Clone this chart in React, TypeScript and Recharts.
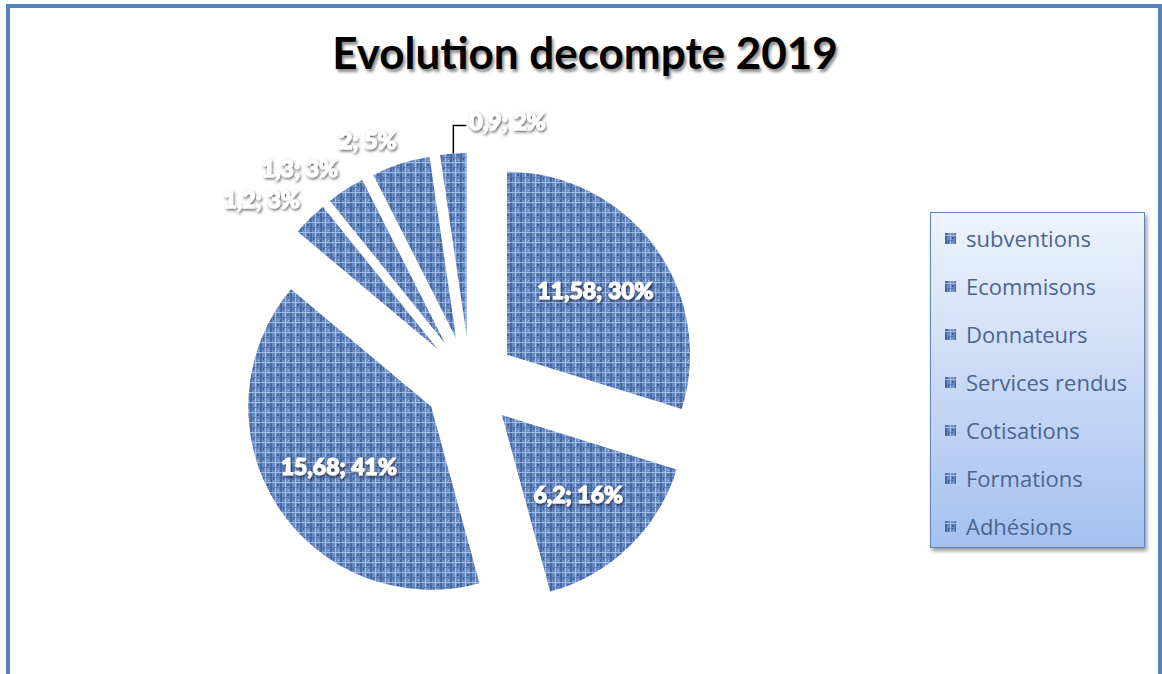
import React from "react";
import { Pie, PieChart, Cell } from "recharts";

const CATEGORIES = ["subventions", "Ecommisons", "Donnateurs", "Services rendus", "Cotisations", "Formations", "Adhésions"];
const VALUES = [11.58, 6.2, 15.68, 1.2, 1.3, 2, 0.9];
const PERCENT_LABELS = [30, 16, 41, 3, 3, 5, 2];

const W = 1162;
const H = 674;
const CX = 470;
const CY = 382;
const R = 183;
const EXPLODE = 46;
const RAD = Math.PI / 180;
const FONT = "Lato, 'Open Sans', sans-serif";

const data = CATEGORIES.map((name, i) => ({ name, value: VALUES[i] }));
const total = VALUES.reduce((a, b) => a + b, 0);

// recharts angle convention: degrees ccw from 3 o'clock, pie drawn clockwise from 12
const midAngles = VALUES.map((v, i) => {
  const before = VALUES.slice(0, i).reduce((a, b) => a + b, 0);
  return 90 - (360 * (before + v / 2)) / total;
});

const fmt = (v: number) => String(v).replace(".", ",");

function Defs() {
  return (
    <svg width={0} height={0} style={{ position: "absolute" }}>
      <defs>
        <pattern id="weave" width="10" height="10" patternUnits="userSpaceOnUse">
          <rect width="10" height="10" fill="#6a8bc2" />
          <rect x="0" y="0" width="2" height="10" fill="#3f5f98" opacity="0.8" />
          <rect x="5" y="0" width="1" height="10" fill="#a3bfea" />
          <rect x="0" y="2" width="10" height="1" fill="#aac4ef" opacity="0.85" />
          <rect x="0" y="7" width="10" height="1" fill="#4a6aa3" opacity="0.6" />
          <rect x="7" y="4" width="2" height="2" fill="#34548d" opacity="0.8" />
          <rect x="3" y="8" width="1" height="2" fill="#2f4f88" opacity="0.8" />
          <rect x="8" y="0" width="1" height="1" fill="#b5cdf3" />
        </pattern>
        <filter id="lblShadow" x="-20%" y="-40%" width="140%" height="180%">
          <feDropShadow dx="1" dy="1.5" stdDeviation="1.4" floodColor="#000" floodOpacity="0.65" />
        </filter>
      </defs>
    </svg>
  );
}

function makeLabel(slice: number) {
  return (props: any) => {
    const { cx, cy, midAngle, index } = props;
    if (index !== slice) return <g />;
    const dx = Math.cos(-midAngle * RAD);
    const dy = Math.sin(-midAngle * RAD);
    const text = `${fmt(VALUES[index])}; ${PERCENT_LABELS[index]}%`;
    const style = { fontFamily: FONT, fontWeight: 900, fontSize: 23, fill: "#fff", stroke: "#fff", strokeWidth: 1.1 };
    if (PERCENT_LABELS[index] >= 10) {
      return (
        <text x={cx + dx * R * 0.6} y={cy + dy * R * 0.6} textAnchor="middle" dominantBaseline="central" style={style} filter="url(#lblShadow)">
          {text}
        </text>
      );
    }
    if (Math.abs(dx) < 0.15) {
      // near the top: leader line and text to the right
      const x0 = cx + dx * R;
      const y0 = cy + dy * R;
      const yL = y0 - 28;
      return (
        <g>
          <polyline points={`${x0},${y0} ${x0},${yL} ${x0 + 13},${yL}`} fill="none" stroke="#000" strokeWidth={1.5} />
          <text x={x0 + 16} y={yL - 5} textAnchor="start" dominantBaseline="central" style={style} filter="url(#lblShadow)">
            {text}
          </text>
        </g>
      );
    }
    return (
      <text x={cx + dx * (R + 14)} y={cy + dy * (R + 14) - 10} textAnchor={dx < 0 ? "end" : "start"} dominantBaseline="central" style={style} filter="url(#lblShadow)">
        {text}
      </text>
    );
  };
}

export default function App() {
  return (
    <div style={{ position: "fixed", left: 0, top: 0, width: W, height: H, background: "#fff", overflow: "hidden" }}>
      <Defs />
      <div style={{ position: "absolute", left: 6, top: 4, width: 1148, height: 720, border: "4px solid #5482c0" }} />
      <div
        style={{
          position: "absolute",
          left: 0,
          top: 26,
          width: 1170,
          textAlign: "center",
          fontFamily: FONT,
          fontWeight: 700,
          fontSize: 44,
          color: "#000",
          textShadow: "2px 3px 3px rgba(0,0,0,0.45)",
        }}
      >
        Evolution decompte 2019
      </div>
      <div style={{ position: "absolute", left: 0, top: 0 }}>
        <PieChart width={W} height={H} margin={{ top: 0, right: 0, bottom: 0, left: 0 }}>
          {VALUES.map((_, s) => (
            <Pie
              key={s}
              data={data}
              dataKey="value"
              nameKey="name"
              cx={CX + EXPLODE * Math.cos(-midAngles[s] * RAD)}
              cy={CY + EXPLODE * Math.sin(-midAngles[s] * RAD)}
              outerRadius={R}
              startAngle={90}
              endAngle={-270}
              stroke="none"
              label={makeLabel(s)}
              labelLine={false}
              isAnimationActive={false}
            >
              {data.map((_, i) => (
                <Cell key={i} fill={i === s ? "url(#weave)" : "none"} stroke="none" />
              ))}
            </Pie>
          ))}
        </PieChart>
      </div>
      <div
        style={{
          position: "absolute",
          left: 930,
          top: 212,
          width: 213,
          height: 334,
          border: "1px solid #5b84c0",
          background: "linear-gradient(to bottom, #eef3fc, #a5c1f0)",
          boxShadow: "2px 3px 4px rgba(0,0,0,0.4)",
        }}
      >
        {CATEGORIES.map((c, i) => (
          <div key={c} style={{ position: "absolute", left: 14, top: 11 + i * 48, height: 28, display: "flex", alignItems: "center" }}>
            <svg width={11} height={11} style={{ marginRight: 10 }}>
              <rect width={11} height={11} fill="url(#weave)" />
            </svg>
            <span style={{ fontFamily: "'Open Sans', sans-serif", fontSize: 22, color: "#4c6590", whiteSpace: "nowrap" }}>{c}</span>
          </div>
        ))}
      </div>
    </div>
  );
}
